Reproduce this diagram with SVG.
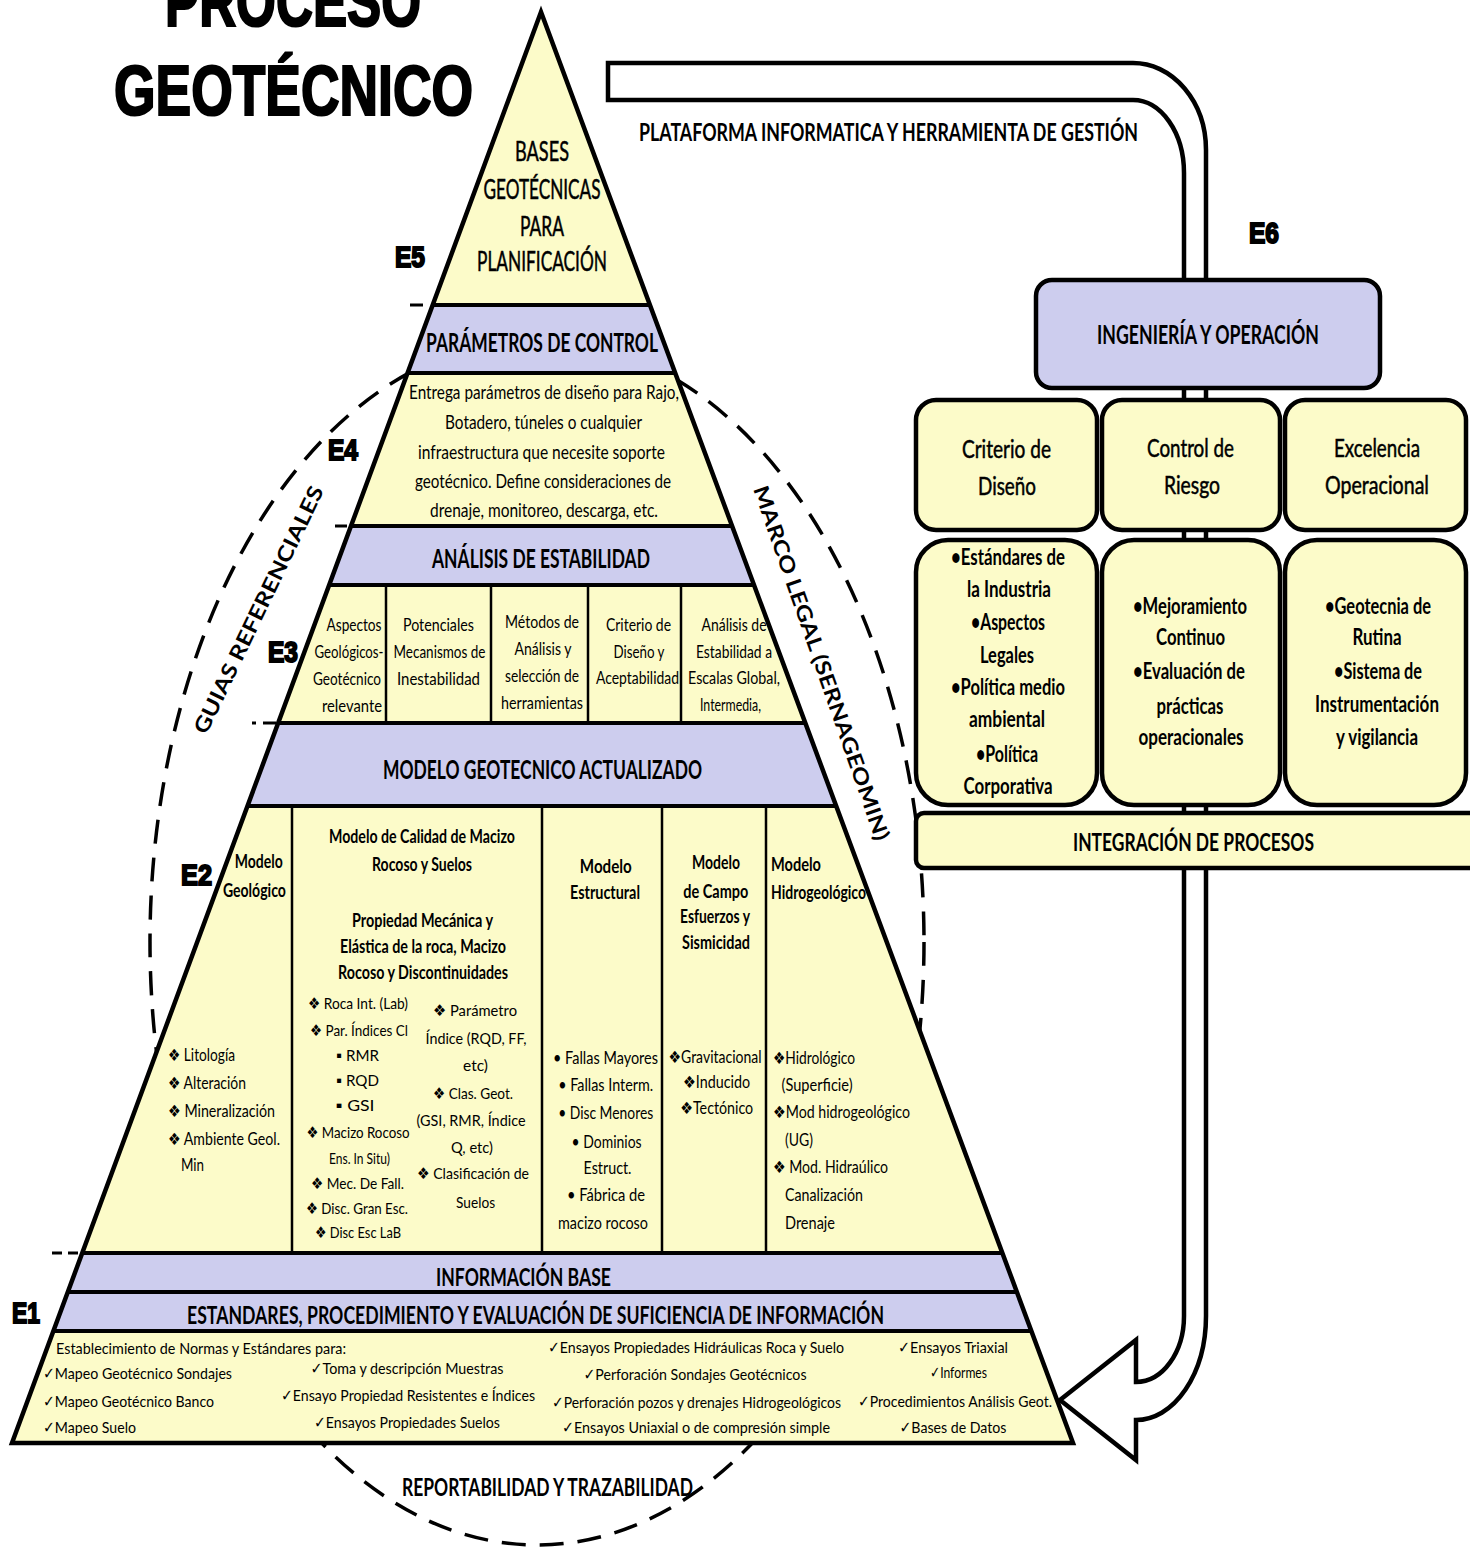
<svg xmlns="http://www.w3.org/2000/svg" width="1470" height="1551" viewBox="0 0 1470 1551">
<defs>
<style>
.t{font-family:Lato,"Liberation Sans","DejaVu Sans",sans-serif;fill:#000}
.b{font-weight:bold}
.m{text-anchor:middle}
.h{stroke:#000;stroke-width:0.5}
.ttl{font-family:"Liberation Sans",Arial,sans-serif;font-weight:bold;fill:#000;stroke:#000;stroke-width:2.2}
.el{font-family:"Liberation Sans",Arial,sans-serif;font-weight:bold;font-size:30px;fill:#000;stroke:#000;stroke-width:2}
.yel{fill:#FCFBC9}
.lav{fill:#CDCDEE}
.ln{stroke:#000;stroke-width:4;fill:none}
.dv{stroke:#000;stroke-width:2.5;fill:none}
.bx{stroke:#000;stroke-width:4.5}
.dash{fill:none;stroke:#000;stroke-width:3.5;stroke-dasharray:24 14}
.ld{stroke:#000;stroke-width:3;fill:none}
.f15{font-size:16px}.f17{font-size:17px}.f18{font-size:18px}.f19{font-size:19px}
.f22{font-size:22px}.f25{font-size:25px}.f26{font-size:26px}.f27{font-size:27px}
</style>
</defs>
<rect width="1470" height="1551" fill="#fff"/>

<g id="title">
<text class="ttl m" x="293" y="26" font-size="70" textLength="256" lengthAdjust="spacingAndGlyphs">PROCESO</text>
<text class="ttl m" x="293.5" y="115" font-size="70" textLength="359" lengthAdjust="spacingAndGlyphs">GEOTÉCNICO</text>
</g>

<g id="frame-dashed">
<ellipse class="dash" cx="537" cy="942" rx="387" ry="603"/>
</g>

<g id="pyramid">
<polygon class="yel" points="541,12 12,1443 1073,1443"/>
<g id="bands">
<polygon class="lav" points="432.7,305 649.9,305 675.2,373 407.5,373"/>
<polygon class="lav" points="351,526 732.1,526 754,585 329.2,585"/>
<polygon class="lav" points="278.2,723 805.3,723 836.2,806 247.5,806"/>
<polygon class="lav" points="82.2,1253 1002.4,1253 1016.9,1292 67.8,1292"/>
<polygon class="lav" points="67.8,1292 1016.9,1292 1031.4,1331 53.4,1331"/>
</g>
<g id="band-lines">
<line class="ln" x1="432.7" y1="305" x2="649.9" y2="305"/>
<line class="ln" x1="407.5" y1="373" x2="675.2" y2="373"/>
<line class="ln" x1="351" y1="526" x2="732.1" y2="526"/>
<line class="ln" x1="329.2" y1="585" x2="754" y2="585"/>
<line class="ln" x1="278.2" y1="723" x2="805.3" y2="723"/>
<line class="ln" x1="247.5" y1="806" x2="836.2" y2="806"/>
<line class="ln" x1="82.2" y1="1253" x2="1002.4" y2="1253"/>
<line class="ln" x1="67.8" y1="1292" x2="1016.9" y2="1292"/>
<line class="ln" x1="53.4" y1="1331" x2="1031.4" y2="1331"/>
<line class="dv" x1="386" y1="585" x2="386" y2="723"/>
<line class="dv" x1="491" y1="585" x2="491" y2="723"/>
<line class="dv" x1="588" y1="585" x2="588" y2="723"/>
<line class="dv" x1="681" y1="585" x2="681" y2="723"/>
<line class="dv" x1="292" y1="806" x2="292" y2="1253"/>
<line class="dv" x1="542" y1="806" x2="542" y2="1253"/>
<line class="dv" x1="662" y1="806" x2="662" y2="1253"/>
<line class="dv" x1="766" y1="806" x2="766" y2="1253"/>
</g>
<g id="leaders">
<line class="ld" x1="410" y1="305" x2="423" y2="305"/>
<line class="ld" x1="335" y1="526" x2="347" y2="526"/>
<line class="ld" x1="252" y1="723" x2="256" y2="723"/>
<line class="ld" x1="263" y1="723" x2="276" y2="723"/>
<line class="ld" x1="52" y1="1253" x2="62" y2="1253"/>
<line class="ld" x1="68" y1="1253" x2="78" y2="1253"/>
</g>

<g id="e5-bases">
<text class="t h m f26" x="542" y="161" textLength="54" lengthAdjust="spacingAndGlyphs">BASES</text>
<text class="t h m f26" x="542" y="199" textLength="117" lengthAdjust="spacingAndGlyphs">GEOTÉCNICAS</text>
<text class="t h m f26" x="542" y="236" textLength="44" lengthAdjust="spacingAndGlyphs">PARA</text>
<text class="t h m f26" x="542" y="271" textLength="130" lengthAdjust="spacingAndGlyphs">PLANIFICACIÓN</text>
</g>
<g id="e4-parametros">
<text class="t b m f27" x="542" y="352" textLength="232" lengthAdjust="spacingAndGlyphs">PARÁMETROS DE CONTROL</text>
<text class="t m f19" x="544" y="399" textLength="270" lengthAdjust="spacingAndGlyphs">Entrega parámetros de diseño para Rajo,</text>
<text class="t m f19" x="543.5" y="429" textLength="197" lengthAdjust="spacingAndGlyphs">Botadero, túneles  o cualquier</text>
<text class="t m f19" x="541.5" y="459" textLength="247" lengthAdjust="spacingAndGlyphs">infraestructura que necesite soporte</text>
<text class="t m f19" x="543" y="488" textLength="256" lengthAdjust="spacingAndGlyphs">geotécnico. Define consideraciones de</text>
<text class="t m f19" x="544" y="517" textLength="228" lengthAdjust="spacingAndGlyphs">drenaje, monitoreo, descarga, etc.</text>
</g>
<g id="e3-analisis">
<text class="t b m f27" x="541" y="568" textLength="218" lengthAdjust="spacingAndGlyphs">ANÁLISIS DE ESTABILIDAD</text>
<text class="t m f17" x="354" y="631" textLength="55" lengthAdjust="spacingAndGlyphs">Aspectos</text>
<text class="t m f17" x="349" y="658" textLength="69" lengthAdjust="spacingAndGlyphs">Geológicos-</text>
<text class="t m f17" x="347" y="685" textLength="68" lengthAdjust="spacingAndGlyphs">Geotécnico</text>
<text class="t m f17" x="352" y="712" textLength="60" lengthAdjust="spacingAndGlyphs">relevante</text>
<text class="t m f17" x="438.5" y="631" textLength="71" lengthAdjust="spacingAndGlyphs">Potenciales</text>
<text class="t m f17" x="439.5" y="658" textLength="92" lengthAdjust="spacingAndGlyphs">Mecanismos de</text>
<text class="t m f17" x="438.5" y="685" textLength="83" lengthAdjust="spacingAndGlyphs">Inestabilidad</text>
<text class="t m f17" x="542" y="628" textLength="74" lengthAdjust="spacingAndGlyphs">Métodos de</text>
<text class="t m f17" x="543" y="655" textLength="57" lengthAdjust="spacingAndGlyphs">Análisis y</text>
<text class="t m f17" x="542" y="682" textLength="74" lengthAdjust="spacingAndGlyphs">selección de</text>
<text class="t m f17" x="542" y="709" textLength="82" lengthAdjust="spacingAndGlyphs">herramientas</text>
<text class="t m f17" x="638.5" y="631" textLength="65" lengthAdjust="spacingAndGlyphs">Criterio de</text>
<text class="t m f17" x="639" y="658" textLength="51" lengthAdjust="spacingAndGlyphs">Diseño y</text>
<text class="t m f17" x="637.5" y="684" textLength="83" lengthAdjust="spacingAndGlyphs">Aceptabilidad</text>
<text class="t m f17" x="734" y="631" textLength="65" lengthAdjust="spacingAndGlyphs">Análisis de</text>
<text class="t m f17" x="734" y="658" textLength="76" lengthAdjust="spacingAndGlyphs">Estabilidad a</text>
<text class="t m f17" x="734" y="684" textLength="92" lengthAdjust="spacingAndGlyphs">Escalas Global,</text>
<text class="t m f17" x="730.5" y="711" textLength="61" lengthAdjust="spacingAndGlyphs">Intermedia,</text>
</g>
<g id="e2-modelo">
<text class="t b m f26" x="542.5" y="779" textLength="319" lengthAdjust="spacingAndGlyphs">MODELO GEOTECNICO ACTUALIZADO</text>
<text class="t b m f18" x="258.7" y="868" textLength="48" lengthAdjust="spacingAndGlyphs">Modelo</text>
<text class="t b m f18" x="254.4" y="897" textLength="63" lengthAdjust="spacingAndGlyphs">Geológico</text>
<text class="t f17" x="168" y="1061" textLength="67" lengthAdjust="spacingAndGlyphs">❖ Litología</text>
<text class="t f17" x="168" y="1089" textLength="78" lengthAdjust="spacingAndGlyphs">❖ Alteración</text>
<text class="t f17" x="168" y="1117" textLength="107" lengthAdjust="spacingAndGlyphs">❖ Mineralización</text>
<text class="t f17" x="168" y="1145" textLength="112" lengthAdjust="spacingAndGlyphs">❖ Ambiente Geol.</text>
<text class="t f17" x="181" y="1171" textLength="23" lengthAdjust="spacingAndGlyphs">Min</text>

<text class="t b m f18" x="422" y="843" textLength="186" lengthAdjust="spacingAndGlyphs">Modelo de Calidad de Macizo</text>
<text class="t b m f18" x="422" y="871" textLength="100" lengthAdjust="spacingAndGlyphs">Rocoso y Suelos</text>
<text class="t b m f18" x="422.5" y="927" textLength="141" lengthAdjust="spacingAndGlyphs">Propiedad Mecánica y</text>
<text class="t b m f18" x="423" y="953" textLength="166" lengthAdjust="spacingAndGlyphs">Elástica de la roca, Macizo</text>
<text class="t b m f18" x="423" y="979" textLength="170" lengthAdjust="spacingAndGlyphs">Rocoso y Discontinuidades</text>
<text class="t m f15" x="358" y="1009" textLength="100" lengthAdjust="spacingAndGlyphs">❖ Roca Int. (Lab)</text>
<text class="t m f15" x="359" y="1036" textLength="98" lengthAdjust="spacingAndGlyphs">❖ Par. Índices Cl</text>
<text class="t m f15" x="357.5" y="1061" textLength="43" lengthAdjust="spacingAndGlyphs">▪  RMR</text>
<text class="t m f15" x="357.5" y="1086" textLength="43" lengthAdjust="spacingAndGlyphs">▪  RQD</text>
<text class="t m f15" x="355" y="1111" textLength="39" lengthAdjust="spacingAndGlyphs">▪  GSI</text>
<text class="t m f15" x="358" y="1138" textLength="103" lengthAdjust="spacingAndGlyphs">❖ Macizo Rocoso</text>
<text class="t m f15" x="359.5" y="1164" textLength="61" lengthAdjust="spacingAndGlyphs">Ens. In Situ)</text>
<text class="t m f15" x="357.5" y="1189" textLength="93" lengthAdjust="spacingAndGlyphs">❖ Mec. De Fall.</text>
<text class="t m f15" x="357" y="1214" textLength="102" lengthAdjust="spacingAndGlyphs">❖ Disc. Gran Esc.</text>
<text class="t m f15" x="358" y="1238" textLength="86" lengthAdjust="spacingAndGlyphs">❖ Disc Esc LaB</text>
<text class="t m f15" x="475" y="1016" textLength="84" lengthAdjust="spacingAndGlyphs">❖ Parámetro</text>
<text class="t m f15" x="476" y="1044" textLength="101" lengthAdjust="spacingAndGlyphs">Índice (RQD, FF,</text>
<text class="t m f15" x="475.5" y="1071" textLength="25" lengthAdjust="spacingAndGlyphs">etc)</text>
<text class="t m f15" x="473" y="1099" textLength="80" lengthAdjust="spacingAndGlyphs">❖ Clas. Geot.</text>
<text class="t m f15" x="471" y="1126" textLength="109" lengthAdjust="spacingAndGlyphs">(GSI, RMR, Índice</text>
<text class="t m f15" x="472" y="1153" textLength="42" lengthAdjust="spacingAndGlyphs">Q, etc)</text>
<text class="t m f15" x="473" y="1179" textLength="112" lengthAdjust="spacingAndGlyphs">❖ Clasificación de</text>
<text class="t m f15" x="475.6" y="1208" textLength="39" lengthAdjust="spacingAndGlyphs">Suelos</text>

<text class="t b m f18" x="605.8" y="873" textLength="52" lengthAdjust="spacingAndGlyphs">Modelo</text>
<text class="t b m f18" x="605" y="899" textLength="70" lengthAdjust="spacingAndGlyphs">Estructural</text>
<text class="t m f17" x="605.5" y="1064" textLength="105" lengthAdjust="spacingAndGlyphs">• Fallas Mayores</text>
<text class="t m f17" x="605.7" y="1091" textLength="95" lengthAdjust="spacingAndGlyphs">• Fallas Interm.</text>
<text class="t m f17" x="605.7" y="1119" textLength="95" lengthAdjust="spacingAndGlyphs">• Disc Menores</text>
<text class="t m f17" x="606.6" y="1148" textLength="70" lengthAdjust="spacingAndGlyphs">• Dominios</text>
<text class="t m f17" x="607.5" y="1174" textLength="48" lengthAdjust="spacingAndGlyphs">Estruct.</text>
<text class="t m f17" x="606" y="1201" textLength="78" lengthAdjust="spacingAndGlyphs">• Fábrica de</text>
<text class="t m f17" x="603" y="1229" textLength="90" lengthAdjust="spacingAndGlyphs">macizo rocoso</text>

<text class="t b m f18" x="716" y="869" textLength="48" lengthAdjust="spacingAndGlyphs">Modelo</text>
<text class="t b m f18" x="715.8" y="898" textLength="65" lengthAdjust="spacingAndGlyphs">de Campo</text>
<text class="t b m f18" x="715" y="923" textLength="70" lengthAdjust="spacingAndGlyphs">Esfuerzos y</text>
<text class="t b m f18" x="716" y="949" textLength="68" lengthAdjust="spacingAndGlyphs">Sismicidad</text>
<text class="t m f17" x="715" y="1063" textLength="93" lengthAdjust="spacingAndGlyphs">❖Gravitacional</text>
<text class="t m f17" x="716.5" y="1088" textLength="67" lengthAdjust="spacingAndGlyphs">❖Inducido</text>
<text class="t m f17" x="716.7" y="1114" textLength="73" lengthAdjust="spacingAndGlyphs">❖Tectónico</text>

<text class="t b f18" x="771" y="871" textLength="50" lengthAdjust="spacingAndGlyphs">Modelo</text>
<text class="t b f18" x="771" y="899" textLength="95" lengthAdjust="spacingAndGlyphs">Hidrogeológico</text>
<text class="t f17" x="773" y="1064" textLength="82" lengthAdjust="spacingAndGlyphs">❖Hidrológico</text>
<text class="t f17" x="781.6" y="1091" textLength="71" lengthAdjust="spacingAndGlyphs">(Superficie)</text>
<text class="t f17" x="773" y="1118" textLength="137" lengthAdjust="spacingAndGlyphs">❖Mod hidrogeológico</text>
<text class="t f17" x="785" y="1146" textLength="28" lengthAdjust="spacingAndGlyphs">(UG)</text>
<text class="t f17" x="773" y="1173" textLength="115" lengthAdjust="spacingAndGlyphs">❖ Mod. Hidraúlico</text>
<text class="t f17" x="785" y="1201" textLength="78" lengthAdjust="spacingAndGlyphs">Canalización</text>
<text class="t f17" x="785" y="1229" textLength="50" lengthAdjust="spacingAndGlyphs">Drenaje</text>
</g>
<g id="e1-informacion">
<text class="t b m f25" x="523.5" y="1286" textLength="175" lengthAdjust="spacingAndGlyphs">INFORMACIÓN BASE</text>
<text class="t b m f25" x="535.5" y="1324" textLength="697" lengthAdjust="spacingAndGlyphs">ESTANDARES, PROCEDIMIENTO Y EVALUACIÓN DE SUFICIENCIA DE INFORMACIÓN</text>
<text class="t f15" x="56" y="1354" textLength="290" lengthAdjust="spacingAndGlyphs">Establecimiento de Normas y Estándares para:</text>
<text class="t f15" x="43" y="1379" textLength="189" lengthAdjust="spacingAndGlyphs">✓Mapeo Geotécnico Sondajes</text>
<text class="t f15" x="43" y="1407" textLength="171" lengthAdjust="spacingAndGlyphs">✓Mapeo Geotécnico Banco</text>
<text class="t f15" x="43" y="1433" textLength="93" lengthAdjust="spacingAndGlyphs">✓Mapeo Suelo</text>
<text class="t m f15" x="407" y="1374" textLength="193" lengthAdjust="spacingAndGlyphs">✓Toma y descripción Muestras</text>
<text class="t m f15" x="408" y="1401" textLength="254" lengthAdjust="spacingAndGlyphs">✓Ensayo Propiedad Resistentes e Índices</text>
<text class="t m f15" x="407" y="1428" textLength="186" lengthAdjust="spacingAndGlyphs">✓Ensayos Propiedades Suelos</text>
<text class="t m f15" x="696" y="1353" textLength="296" lengthAdjust="spacingAndGlyphs">✓Ensayos Propiedades Hidráulicas Roca y Suelo</text>
<text class="t m f15" x="695" y="1380" textLength="223" lengthAdjust="spacingAndGlyphs">✓Perforación Sondajes Geotécnicos</text>
<text class="t m f15" x="696.5" y="1408" textLength="289" lengthAdjust="spacingAndGlyphs">✓Perforación pozos y drenajes Hidrogeológicos</text>
<text class="t m f15" x="696" y="1433" textLength="268" lengthAdjust="spacingAndGlyphs">✓Ensayos Uniaxial o de compresión simple</text>
<text class="t m f15" x="953" y="1353" textLength="110" lengthAdjust="spacingAndGlyphs">✓Ensayos Triaxial</text>
<text class="t m f15" x="958.5" y="1378" textLength="57" lengthAdjust="spacingAndGlyphs">✓Informes</text>
<text class="t m f15" x="955" y="1407" textLength="194" lengthAdjust="spacingAndGlyphs">✓Procedimientos Análisis Geot.</text>
<text class="t m f15" x="953" y="1433" textLength="107" lengthAdjust="spacingAndGlyphs">✓Bases de Datos</text>
</g>
<polygon points="541,12 12,1443 1073,1443" fill="none" stroke="#000" stroke-width="4.5" stroke-linejoin="miter"/>
</g>

<g id="connectors">
<path d="M608,63 L1133,63 A73,87 0 0 1 1206,150 L1206,1316 A70,104 0 0 1 1136,1420 L1136,1460 L1060,1400 L1136,1340 L1136,1382 A48,66 0 0 0 1184,1316 L1184,173 A51,73 0 0 0 1133,100 L608,100 Z" fill="#fff" stroke="#000" stroke-width="4.5" stroke-linejoin="miter"/>
</g>

<g id="ingenieria-operacion">
<rect class="bx lav" x="1036" y="280" width="344" height="108" rx="16"/>
<text class="t b m f26" x="1208" y="344" textLength="222" lengthAdjust="spacingAndGlyphs">INGENIERÍA Y OPERACIÓN</text>
</g>
<g id="criterio-diseno">
<rect class="bx yel" x="916" y="400" width="181" height="130" rx="20"/>
<text class="t h m f25" x="1006.5" y="458" textLength="89" lengthAdjust="spacingAndGlyphs">Criterio de</text>
<text class="t h m f25" x="1007" y="495" textLength="58" lengthAdjust="spacingAndGlyphs">Diseño</text>
</g>
<g id="control-riesgo">
<rect class="bx yel" x="1102" y="400" width="178" height="130" rx="20"/>
<text class="t h m f25" x="1190.5" y="457" textLength="87" lengthAdjust="spacingAndGlyphs">Control de</text>
<text class="t h m f25" x="1192" y="494" textLength="56" lengthAdjust="spacingAndGlyphs">Riesgo</text>
</g>
<g id="excelencia-operacional">
<rect class="bx yel" x="1285" y="400" width="181" height="130" rx="20"/>
<text class="t h m f25" x="1377" y="457" textLength="86" lengthAdjust="spacingAndGlyphs">Excelencia</text>
<text class="t h m f25" x="1377" y="494" textLength="104" lengthAdjust="spacingAndGlyphs">Operacional</text>
</g>
<g id="criterio-items">
<rect class="bx yel" x="916" y="540" width="181" height="265" rx="32"/>
<text class="t b m f22" x="1008" y="565" textLength="114" lengthAdjust="spacingAndGlyphs">•Estándares de</text>
<text class="t b m f22" x="1009" y="597" textLength="84" lengthAdjust="spacingAndGlyphs">la Industria</text>
<text class="t b m f22" x="1008" y="630" textLength="74" lengthAdjust="spacingAndGlyphs">•Aspectos</text>
<text class="t b m f22" x="1007" y="663" textLength="54" lengthAdjust="spacingAndGlyphs">Legales</text>
<text class="t b m f22" x="1008" y="695" textLength="114" lengthAdjust="spacingAndGlyphs">•Política medio</text>
<text class="t b m f22" x="1007" y="727" textLength="76" lengthAdjust="spacingAndGlyphs">ambiental</text>
<text class="t b m f22" x="1007" y="762" textLength="62" lengthAdjust="spacingAndGlyphs">•Política</text>
<text class="t b m f22" x="1008" y="794" textLength="89" lengthAdjust="spacingAndGlyphs">Corporativa</text>
</g>
<g id="control-items">
<rect class="bx yel" x="1102" y="540" width="178" height="265" rx="32"/>
<text class="t b m f22" x="1190" y="614" textLength="114" lengthAdjust="spacingAndGlyphs">•Mejoramiento</text>
<text class="t b m f22" x="1190.5" y="645" textLength="69" lengthAdjust="spacingAndGlyphs">Continuo</text>
<text class="t b m f22" x="1189" y="679" textLength="112" lengthAdjust="spacingAndGlyphs">•Evaluación de</text>
<text class="t b m f22" x="1190" y="714" textLength="67" lengthAdjust="spacingAndGlyphs">prácticas</text>
<text class="t b m f22" x="1191" y="745" textLength="105" lengthAdjust="spacingAndGlyphs">operacionales</text>
</g>
<g id="excelencia-items">
<rect class="bx yel" x="1285" y="540" width="181" height="265" rx="32"/>
<text class="t b m f22" x="1378" y="614" textLength="106" lengthAdjust="spacingAndGlyphs">•Geotecnia de</text>
<text class="t b m f22" x="1377" y="645" textLength="49" lengthAdjust="spacingAndGlyphs">Rutina</text>
<text class="t b m f22" x="1378" y="679" textLength="88" lengthAdjust="spacingAndGlyphs">•Sistema de</text>
<text class="t b m f22" x="1377" y="712" textLength="124" lengthAdjust="spacingAndGlyphs">Instrumentación</text>
<text class="t b m f22" x="1377" y="745" textLength="82" lengthAdjust="spacingAndGlyphs">y vigilancia</text>
</g>
<g id="integracion-procesos">
<rect class="bx yel" x="916" y="813" width="570" height="55" rx="8"/>
<text class="t b m f25" x="1193.5" y="851" textLength="241" lengthAdjust="spacingAndGlyphs">INTEGRACIÓN DE PROCESOS</text>
</g>

<g id="labels">
<text class="el" x="395" y="267" textLength="30" lengthAdjust="spacingAndGlyphs">E5</text>
<text class="el" x="328" y="460" textLength="30" lengthAdjust="spacingAndGlyphs">E4</text>
<text class="el" x="268" y="662" textLength="30" lengthAdjust="spacingAndGlyphs">E3</text>
<text class="el" x="181" y="885" textLength="31" lengthAdjust="spacingAndGlyphs">E2</text>
<text class="el" x="12" y="1323" textLength="28" lengthAdjust="spacingAndGlyphs">E1</text>
<text class="el" x="1249" y="243" textLength="30" lengthAdjust="spacingAndGlyphs">E6</text>
<text class="t b f25" x="639" y="141" textLength="499" lengthAdjust="spacingAndGlyphs">PLATAFORMA INFORMATICA Y HERRAMIENTA DE GESTIÓN</text>
<text class="t b m f25" x="547.5" y="1496" textLength="291" lengthAdjust="spacingAndGlyphs">REPORTABILIDAD Y TRAZABILIDAD</text>
<text class="t b m" font-size="21" transform="translate(259,610) rotate(-64.3)" y="7" textLength="272" lengthAdjust="spacingAndGlyphs">GUIAS REFERENCIALES</text>
<text class="t b m" font-size="21" transform="translate(821,663) rotate(70.8)" y="7" textLength="374" lengthAdjust="spacingAndGlyphs">MARCO LEGAL (SERNAGEOMIN)</text>
</g>
</svg>
